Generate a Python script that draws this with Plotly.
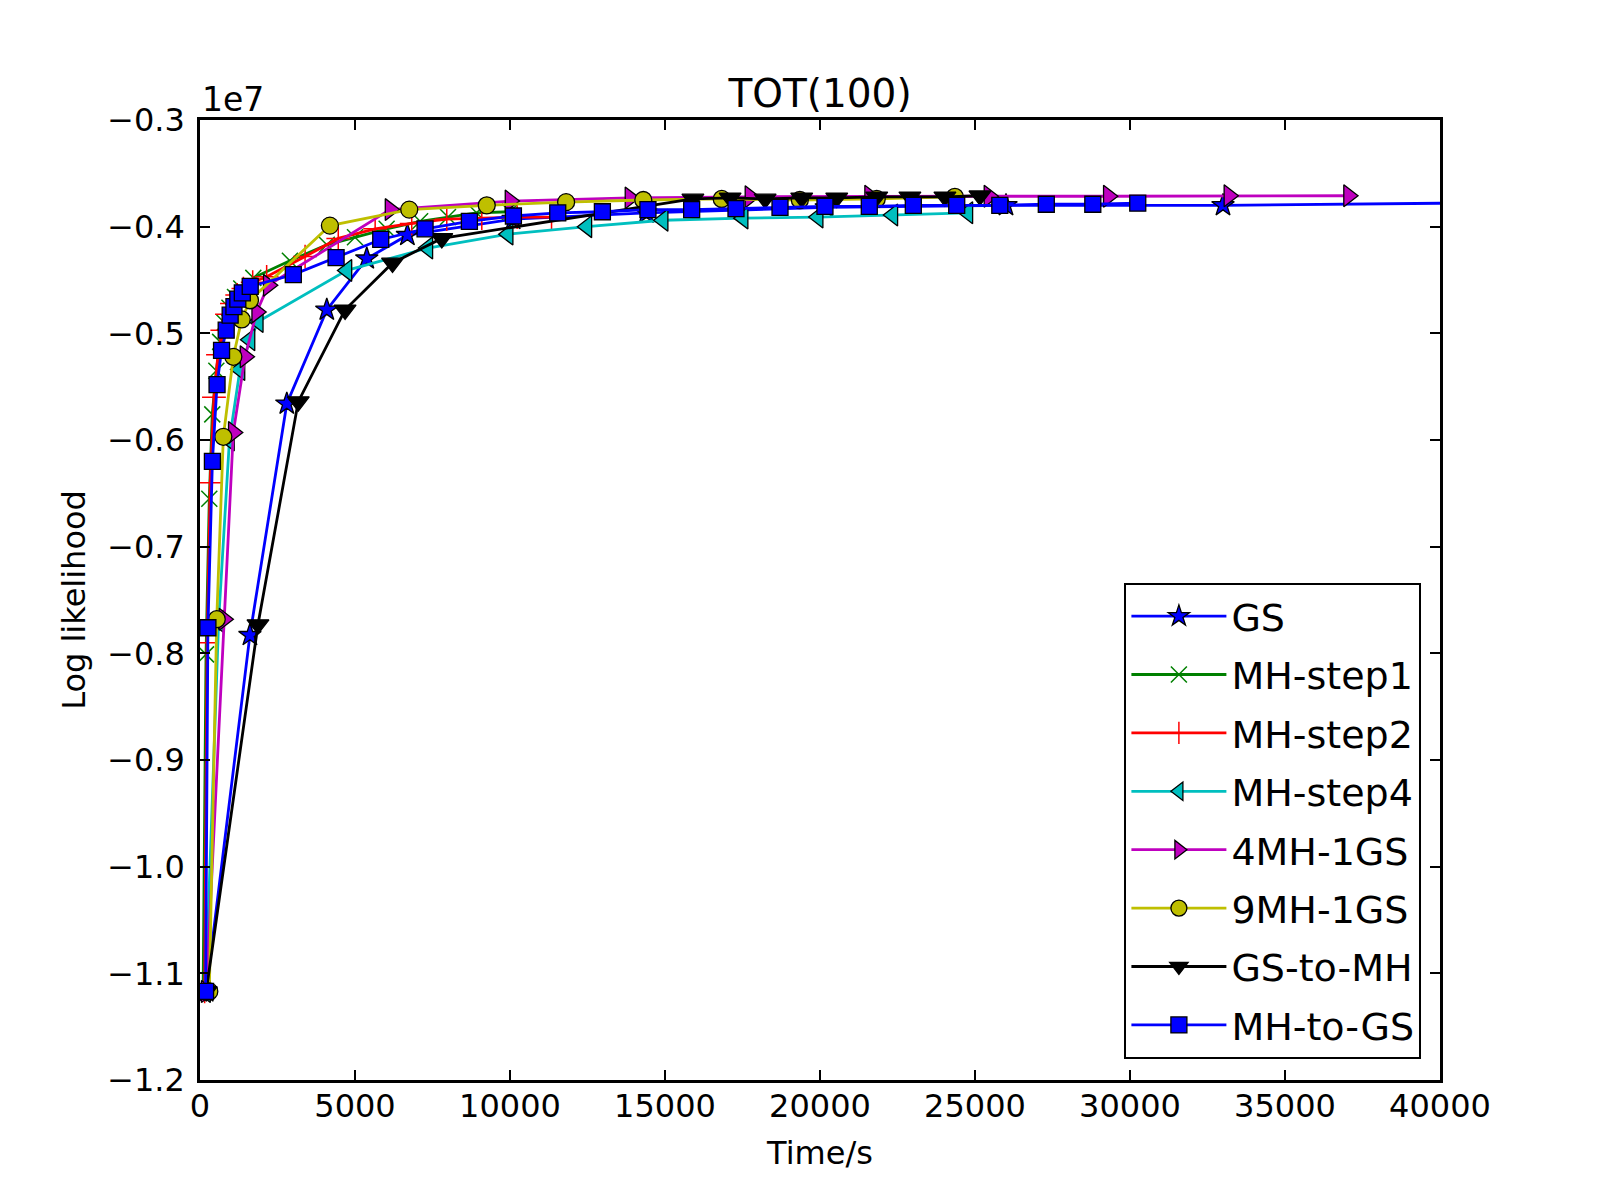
import plotly.graph_objects as go

# values in units of 1e7 (matplotlib offset text "1e7")
gs_x = [200, 1610, 2800, 4090, 5380, 6690, 10100, 14400, 20200, 26000, 33000, 42000]
gs_y = [-1.117, -0.783, -0.566, -0.478, -0.430, -0.408, -0.393, -0.387, -0.382, -0.380, -0.380, -0.3775]

mh1_x = [100, 194, 300, 395, 527, 650, 790, 950, 1130, 1330, 1720, 2900, 4090, 5000, 6020, 7100, 8000, 8920, 10000]
mh1_y = [-1.117, -0.801, -0.655, -0.576, -0.535, -0.508, -0.490, -0.476, -0.466, -0.458, -0.448, -0.432,
         -0.417, -0.410, -0.402, -0.395, -0.391, -0.387, -0.386]

mh2_x = [150, 230, 330, 450, 580, 720, 870, 1030, 1200, 1400, 1700, 2150, 3390, 4460, 5650, 6830, 7960, 9090,
         10230, 11340]
mh2_y = [-1.117, -0.790, -0.640, -0.560, -0.520, -0.497, -0.482, -0.472, -0.464, -0.458, -0.452, -0.447,
         -0.428, -0.411, -0.402, -0.397, -0.393, -0.392, -0.391, -0.391]

mh4_x = [180, 600, 950, 1290, 1613, 1880, 4740, 7350, 9940, 12480, 14940, 17520, 19940, 22350, 24770]
mh4_y = [-1.117, -0.770, -0.600, -0.534, -0.506, -0.489, -0.441, -0.420, -0.407, -0.400, -0.394, -0.392,
         -0.391, -0.389, -0.387]

mh4gs_x = [200, 770, 1074, 1452, 1829, 2203, 6130, 10000, 13870, 17740, 21600, 25450, 29300, 33190, 37050]
mh4gs_y = [-1.117, -0.768, -0.593, -0.522, -0.480, -0.455, -0.384, -0.376, -0.373, -0.372, -0.3715, -0.3715,
           -0.3715, -0.371, -0.371]

mh9gs_x = [300, 540, 753, 1075, 1345, 1613, 4190, 6750, 9250, 11810, 14300, 16830, 19350, 21830, 24350]
mh9gs_y = [-1.117, -0.768, -0.597, -0.522, -0.487, -0.469, -0.399, -0.384, -0.380, -0.377, -0.375, -0.374,
           -0.375, -0.374, -0.372]

gs2mh_x = [200, 1870, 3170, 4680, 6210, 7800, 15900, 17100, 18230, 19410, 20540, 21830, 22900, 24030, 25160]
gs2mh_y = [-1.117, -0.773, -0.564, -0.478, -0.434, -0.411, -0.374, -0.373, -0.374, -0.373, -0.373, -0.372,
           -0.372, -0.372, -0.371]

mh2gs_x = [180, 255, 400, 550, 695, 845, 973, 1095, 1220, 1365, 1620, 3010, 4390, 5830, 7260, 8690, 10110,
           11540, 12980, 14450, 15860, 17290, 18710, 20160, 21590, 23010, 24410, 25800, 27300, 28800, 30250]
mh2gs_y = [-1.117, -0.776, -0.620, -0.548, -0.516, -0.497, -0.483, -0.475, -0.468, -0.462, -0.456, -0.445,
           -0.429, -0.412, -0.402, -0.395, -0.390, -0.387, -0.386, -0.384, -0.384, -0.383, -0.382, -0.381,
           -0.381, -0.380, -0.380, -0.380, -0.379, -0.379, -0.378]

x_ticks = [0, 5000, 10000, 15000, 20000, 25000, 30000, 35000, 40000]
y_ticks = [-1.2, -1.1, -1.0, -0.9, -0.8, -0.7, -0.6, -0.5, -0.4, -0.3]
y_ticktext = ['\u2212%.1f' % abs(v) for v in y_ticks]

FONT = 'DejaVu Sans'
EDGE = dict(color='black', width=1.3)

series = [
    ('GS', gs_x, gs_y, '#0000ff', dict(symbol='star', size=17, line=EDGE)),
    ('MH-step1', mh1_x, mh1_y, '#008000', dict(symbol='x-thin-open', size=16, line=dict(color='#008000', width=1.5))),
    ('MH-step2', mh2_x, mh2_y, '#ff0000', dict(symbol='cross-thin-open', size=17, line=dict(color='#ff0000', width=1.5))),
    ('MH-step4', mh4_x, mh4_y, '#00bfbf', dict(symbol='triangle-left', size=19, line=EDGE)),
    ('4MH-1GS', mh4gs_x, mh4gs_y, '#bf00bf', dict(symbol='triangle-right', size=19, line=EDGE)),
    ('9MH-1GS', mh9gs_x, mh9gs_y, '#bfbf00', dict(symbol='circle', size=17, line=EDGE)),
    ('GS-to-MH', gs2mh_x, gs2mh_y, '#000000', dict(symbol='triangle-down', size=19, line=EDGE)),
    ('MH-to-GS', mh2gs_x, mh2gs_y, '#0000ff', dict(symbol='square', size=16, line=EDGE)),
]

fig = go.Figure()
for name, xs, ys, color, marker in series:
    fig.add_trace(go.Scatter(
        x=xs, y=ys, name=name, legendgroup=name, mode='lines+markers',
        line=dict(color=color, width=2.8),
        marker=dict(color=color, **marker),
    ))

axis_common = dict(
    showline=True, linecolor='black', linewidth=2.5, mirror='allticks',
    ticks='inside', ticklen=10, tickwidth=1.5, tickcolor='black',
    showgrid=False, zeroline=False,
    tickfont=dict(family=FONT, size=32, color='black'),
)

# page body adds an 8px offset, so margins are shifted to compensate
fig.update_layout(
    width=1600, height=1200,
    paper_bgcolor='white', plot_bgcolor='white',
    margin=dict(l=192, r=168, t=112, b=128),
    font=dict(family=FONT, color='black'),
    title=dict(text='TOT(100)', x=0.5, xref='paper', y=1, yref='paper', yanchor='bottom',
               pad=dict(b=13), font=dict(family=FONT, size=39, color='black')),
    xaxis=dict(range=[0, 40000], tickvals=x_ticks, ticktext=[str(v) for v in x_ticks],
               title=dict(text='Time/s', font=dict(family=FONT, size=32), standoff=18),
               ticklabelstandoff=-4, **axis_common),
    yaxis=dict(range=[-1.2, -0.3], tickvals=y_ticks, ticktext=y_ticktext,
               title=dict(text='Log likelihood', font=dict(family=FONT, size=32), standoff=12),
               ticklabelstandoff=6, **axis_common),
    legend=dict(x=0.985, y=0.022, xanchor='right', yanchor='bottom',
                bgcolor='white', bordercolor='black', borderwidth=2,
                font=dict(family=FONT, size=38, color='black'),
                itemwidth=95, tracegroupgap=6, entrywidth=200, entrywidthmode='pixels'),
    showlegend=True,
    annotations=[dict(text='1e7', x=0, xref='paper', y=1, yref='paper', xanchor='left', yanchor='bottom',
                      yshift=-1, showarrow=False, font=dict(family=FONT, size=33, color='black'))],
)

fig.write_html('out.html')
